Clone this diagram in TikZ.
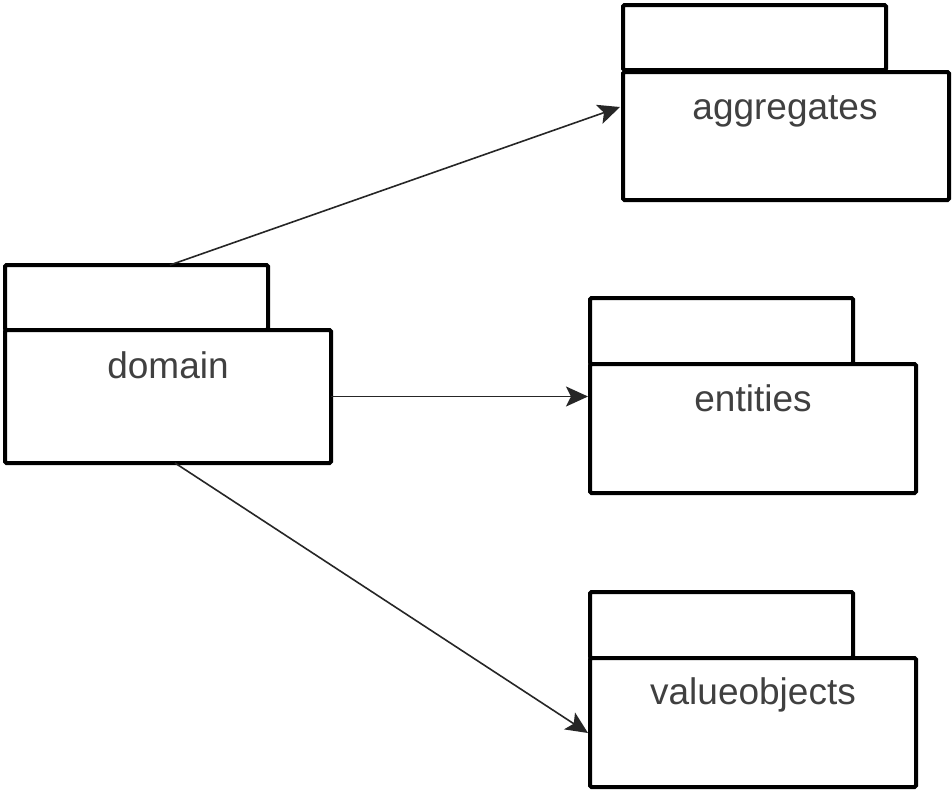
\documentclass[tikz,border=0pt]{standalone}
\usepackage{fontspec}
\setmainfont{Liberation Sans}
\usetikzlibrary{arrows.meta,calc}
\begin{document}
\begin{tikzpicture}[x=1pt,y=-1pt,
  pkgline/.style={draw=black,line width=4pt,fill=white,rounded corners=1.5pt,inner sep=0pt,outer sep=0pt,anchor=north west},
  pkgtab/.style={pkgline,minimum width=263pt,minimum height=65pt},
  pkgbody/.style={pkgline,minimum width=326pt,minimum height=133pt},
  pkglabel/.style={anchor=base,text=black!75,font=\fontsize{37}{40}\selectfont,inner sep=0pt},
  dep/.style={draw=black!85,line width=1.6pt,-{Stealth[length=22pt,width=20pt,inset=5pt]}}]
\useasboundingbox (0,0) rectangle (952,790);
\fill[white] (0,0) rectangle (952,790);
% packages
\node[pkgtab] (aggtab) at (623,5) {};
\node[pkgbody,minimum height=128pt] (agg) at (623,72) {};
\node[pkglabel] (agglbl) at (785,119) {aggregates};
\node[pkgtab] (domtab) at (5,265) {};
\node[pkgbody] (dom) at (5,330) {};
\node[pkglabel] (domlbl) at (168,378) {domain};
\node[pkgtab,minimum height=66pt] (enttab) at (590,298) {};
\node[pkgbody,minimum height=129pt] (ent) at (590,364) {};
\node[pkglabel] (entlbl) at (753,411) {entities};
\node[pkgtab,minimum height=66pt] (valtab) at (590,592) {};
\node[pkgbody,minimum height=129pt] (val) at (590,658) {};
\node[pkglabel] (vallbl) at (753,704) {valueobjects};
% connector end points
\coordinate (d1) at ($(domtab.north west)+(165,0)$);
\coordinate (d3) at ($(dom.south west)+(170,0)$);
\coordinate (a1) at ($(agg.north west)+(-3,35)$);
\coordinate (e1) at ($(ent.west |- dom.east)+(-2,0)$);
\coordinate (v1) at ($(val.north west)+(-2,75)$);
\draw[dep] (d1) -- (a1);
\draw[dep] (dom.east) -- (e1);
\draw[dep] (d3) -- (v1);
\end{tikzpicture}
\end{document}
